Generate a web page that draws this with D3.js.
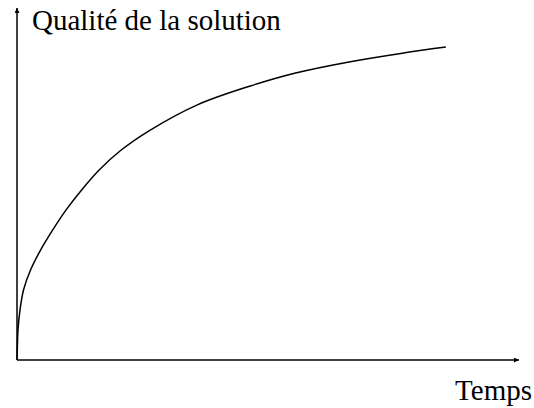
<!DOCTYPE html>
<html>
<head>
<meta charset="utf-8">
<script src="https://cdn.jsdelivr.net/npm/d3@7"></script>
<style>
  body { margin: 0; background: #fff; }
</style>
</head>
<body>
<svg id="chart"></svg>
<script>
// Curve: time vs quality (arbitrary units 0..100)
var temps   = [0, 0.06, 0.2, 0.6, 1.3, 2.7, 4.7, 7.1, 9.8, 12.9, 16.4, 20.8, 26.6, 36, 46.6, 55.6, 66, 76.6, 85.6];
var qualite = [0, 2.9, 8.6, 14.3, 20, 25.7, 31.4, 37.1, 42.9, 48.6, 54.3, 60, 65.7, 72.9, 78.3, 82, 85.1, 87.6, 89.4];
var xLabel = "Temps",
    yLabel = "Qualité de la solution";

var width = 534, height = 408;
var margin = {top: 8, right: 16, bottom: 48, left: 17};

var svg = d3.select("#chart")
    .attr("width", width)
    .attr("height", height);

var x = d3.scaleLinear().domain([0, 100]).range([margin.left, width - margin.right]);
var y = d3.scaleLinear().domain([0, 100]).range([height - margin.bottom, 10]);

// arrow heads
svg.append("defs").append("marker")
    .attr("id", "arrow")
    .attr("viewBox", "0 0 10 10")
    .attr("refX", 10).attr("refY", 5)
    .attr("markerWidth", 10).attr("markerHeight", 5)
    .attr("markerUnits", "userSpaceOnUse")
    .attr("orient", "auto")
  .append("path")
    .attr("d", "M0,0L10,5L0,10Z")
    .attr("fill", "#000");

// axes
svg.append("line")
    .attr("x1", x(0)).attr("y1", y(0))
    .attr("x2", x(100) + 1).attr("y2", y(0))
    .attr("stroke", "#000").attr("stroke-width", 1.5)
    .attr("marker-end", "url(#arrow)");

svg.append("line")
    .attr("x1", x(0)).attr("y1", y(0))
    .attr("x2", x(0)).attr("y2", y(100) - 2)
    .attr("stroke", "#000").attr("stroke-width", 1.5)
    .attr("marker-end", "url(#arrow)");

// curve
var line = d3.line()
    .x(function(d, i) { return x(temps[i]); })
    .y(function(d) { return y(d); })
    .curve(d3.curveCatmullRom.alpha(0.5));

svg.append("path")
    .datum(qualite)
    .attr("d", line)
    .attr("fill", "none")
    .attr("stroke", "#000")
    .attr("stroke-width", 1.5);

// labels
svg.append("text")
    .attr("x", 32).attr("y", 30)
    .attr("font-family", "Liberation Serif")
    .attr("font-size", 29)
    .text(yLabel);

svg.append("text")
    .attr("x", 532).attr("y", 400)
    .attr("text-anchor", "end")
    .attr("font-family", "Liberation Serif")
    .attr("font-size", 29)
    .text(xLabel);
</script>
</body>
</html>
